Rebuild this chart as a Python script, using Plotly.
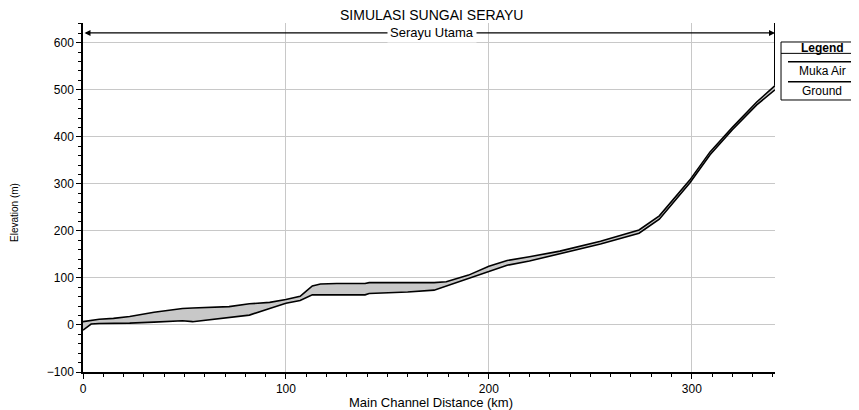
import plotly.graph_objects as go

# Data (km, m)
station_km = [0, 4, 8, 15, 23, 35, 49, 54, 65, 72, 82, 92, 100, 107, 110, 113, 117, 125, 139, 141,
              160, 173, 179, 190, 200, 209, 220, 235, 255, 274, 284, 299, 309, 320, 332, 341]
muka_air = [7, 10, 12, 14, 18, 27, 35, 36, 37, 39, 45, 48, 54, 61, 72, 83, 87, 88, 88, 90,
            90, 90, 92, 106, 125, 137, 145, 157, 178, 202, 232, 308, 368, 420, 474, 509]
ground = [-11, 2, 3, 3, 4, 6, 9, 7, 12, 15, 21, 35, 46, 52, 58, 64, 64, 64, 64, 67,
          70, 74, 83, 99, 114, 127, 136, 151, 172, 195, 225, 302, 362, 415, 468, 500]

x_ticks = [0, 100, 200, 300]
y_ticks = [-100, 0, 100, 200, 300, 400, 500, 600]
reach_top = 621
reach_name = "Serayu Utama"
chart_title = "SIMULASI SUNGAI SERAYU"
legend_items = ["Muka Air", "Ground"]

FONT = "Liberation Sans, Arial, sans-serif"
X_MAX = 341
Y_MIN, Y_MAX = -100, 642

fig = go.Figure()
fig.add_trace(go.Scatter(x=station_km, y=ground, mode="lines", name="Ground",
                         line=dict(color="black", width=1.6), showlegend=False))
fig.add_trace(go.Scatter(x=station_km, y=muka_air, mode="lines", name="Muka Air",
                         line=dict(color="black", width=1.6), fill="tonexty",
                         fillcolor="#c8c8c8", showlegend=False))

# end-of-reach vertical line
fig.add_shape(type="line", xref="x", yref="y", x0=X_MAX, x1=X_MAX, y0=muka_air[-1], y1=Y_MAX,
              line=dict(color="black", width=2))

# reach arrow
fig.add_annotation(x=X_MAX, y=reach_top, ax=0, ay=reach_top, xref="x", yref="y",
                   axref="x", ayref="y", showarrow=True, arrowhead=2, arrowside="end+start",
                   arrowsize=1, arrowwidth=1.2, arrowcolor="black", text="")
fig.add_annotation(x=0.504, y=reach_top, xref="paper", yref="y", text=reach_name,
                   showarrow=False, bgcolor="white", borderpad=2, xanchor="center",
                   font=dict(family=FONT, size=13, color="black"))

# title
fig.add_annotation(x=0.504, y=1.023, xref="paper", yref="paper", text=chart_title,
                   showarrow=False, xanchor="center", yanchor="middle",
                   font=dict(family=FONT, size=14, color="black"))

# axis titles
fig.add_annotation(x=0.503, y=-0.086, xref="paper", yref="paper",
                   text="Main Channel Distance (km)", showarrow=False,
                   xanchor="center", yanchor="middle",
                   font=dict(family=FONT, size=13, color="black"))
fig.add_annotation(x=-0.1, y=0.458, xref="paper", yref="paper", text="Elevation (m)",
                   textangle=-90, showarrow=False, xanchor="center", yanchor="middle",
                   font=dict(family=FONT, size=10, color="black"))

# custom legend box
lx0, lx1 = 1.0087, 1.1185
ly0, ly1 = 0.7794, 0.9456
lcx = 1.068
fig.add_shape(type="rect", xref="paper", yref="paper", x0=lx0, x1=lx1, y0=ly0, y1=ly1,
              line=dict(color="black", width=1), fillcolor="white")
fig.add_shape(type="line", xref="paper", yref="paper", x0=lx0, x1=lx1, y0=0.913, y1=0.913,
              line=dict(color="black", width=1))
fig.add_annotation(x=lcx, y=0.929, xref="paper", yref="paper", text="<b>Legend</b>",
                   showarrow=False, xanchor="center", yanchor="middle",
                   font=dict(family=FONT, size=12, color="black"))
for name, ly, ty in zip(legend_items, [0.889, 0.8318], [0.8633, 0.806]):
    fig.add_shape(type="line", xref="paper", yref="paper", x0=1.0188, x1=1.1113, y0=ly, y1=ly,
                  line=dict(color="black", width=1.5))
    fig.add_annotation(x=lcx, y=ty, xref="paper", yref="paper", text=name,
                       showarrow=False, xanchor="center", yanchor="middle",
                       font=dict(family=FONT, size=12, color="black"))

fig.update_xaxes(range=[0, X_MAX], tickvals=x_ticks, showgrid=True, gridcolor="#c8c8c8",
                 gridwidth=1, showline=True, linecolor="black", linewidth=1.5,
                 ticks="outside", ticklen=5, tickcolor="black", zeroline=False,
                 minor=dict(dtick=10, ticks="outside", ticklen=3, tickcolor="black", showgrid=False),
                 tickfont=dict(family=FONT, size=12, color="black"))
fig.update_yaxes(range=[Y_MIN, Y_MAX], tickvals=y_ticks, showgrid=True, gridcolor="#c8c8c8",
                 gridwidth=1, showline=True, linecolor="black", linewidth=1.5,
                 ticks="outside", ticklen=5, tickcolor="black", zeroline=False,
                 minor=dict(dtick=20, ticks="outside", ticklen=3, tickcolor="black", showgrid=False),
                 tickfont=dict(family=FONT, size=12, color="black"))

# page body has an 8px margin, so the figure is sized to fit the 859x410 window
fig.update_layout(width=851, height=402, margin=dict(l=75, r=84, t=15, b=38),
                  plot_bgcolor="white", paper_bgcolor="white", showlegend=False)

fig.write_html("out.html")
